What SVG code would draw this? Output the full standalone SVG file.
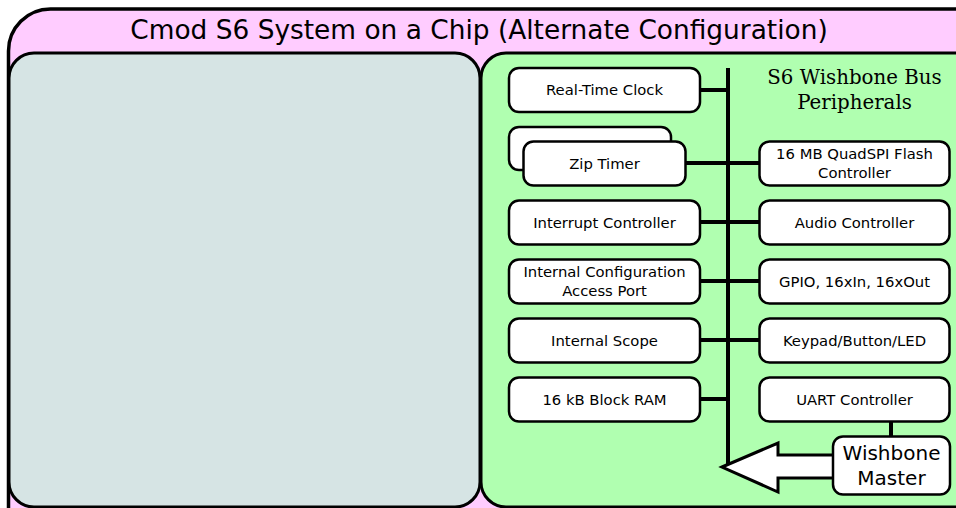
<svg xmlns="http://www.w3.org/2000/svg" width="956" height="508" viewBox="0 0 956 508">
<style>
.box{fill:#ffffff;stroke:#000;stroke-width:2.5}
.t{font-family:"DejaVu Sans",sans-serif;font-size:14.8px;text-anchor:middle;fill:#000}
.c{stroke:#000;stroke-width:4;fill:none}
</style>
<rect width="956" height="508" fill="#ffffff"/>
<g id="soc">
<rect x="8.5" y="9" width="990" height="560" rx="42" ry="42" fill="#ffccff" stroke="#000" stroke-width="3.5"/>
<text x="479" y="39" style="font-family:'DejaVu Sans',sans-serif;font-size:26.4px;text-anchor:middle">Cmod S6 System on a Chip (Alternate Configuration)</text>
</g>
<g id="cpu-panel">
<rect x="9" y="53" width="471" height="454" rx="25" ry="25" fill="#d6e4e4" stroke="#000" stroke-width="3"/>
</g>
<g id="bus-panel">
<rect x="481" y="53" width="520" height="454" rx="25" ry="25" fill="#b0ffb0" stroke="#000" stroke-width="3"/>
<text x="854.5" y="84" style="font-family:'DejaVu Serif',serif;font-size:19.8px;text-anchor:middle">S6 Wishbone Bus</text>
<text x="854.5" y="109" style="font-family:'DejaVu Serif',serif;font-size:19.8px;text-anchor:middle">Peripherals</text>
</g>
<g id="connectors">
<line class="c" x1="728" y1="68" x2="728" y2="466" stroke-width="5"/>
<line class="c" x1="700" y1="90" x2="728" y2="90"/>
<line class="c" x1="685" y1="163" x2="760" y2="163"/>
<line class="c" x1="700" y1="222" x2="760" y2="222"/>
<line class="c" x1="700" y1="281" x2="760" y2="281"/>
<line class="c" x1="700" y1="340" x2="760" y2="340"/>
<line class="c" x1="700" y1="399" x2="728" y2="399"/>
<line class="c" x1="891" y1="420" x2="891" y2="437"/>
<polygon points="722,467 778,443 778,455 834,455 834,478 778,478 778,492" fill="#fff" stroke="#000" stroke-width="3" stroke-linejoin="miter"/>
</g>
<g id="rtc"><rect class="box" x="509" y="68" width="191" height="44" rx="10"/><text class="t" x="604.5" y="95">Real-Time Clock</text></g>
<g id="zip-timer">
<rect class="box" x="509" y="127" width="162" height="43" rx="10"/>
<rect class="box" x="523.5" y="141.5" width="162" height="44" rx="10"/>
<text class="t" x="604.5" y="168.5">Zip Timer</text>
</g>
<g id="pic"><rect class="box" x="509" y="200.5" width="191" height="44" rx="10"/><text class="t" x="604.5" y="227.5">Interrupt Controller</text></g>
<g id="icap"><rect class="box" x="509" y="259.5" width="191" height="44" rx="10"/><text class="t" x="604.5" y="277">Internal Configuration</text><text class="t" x="604.5" y="296">Access Port</text></g>
<g id="scope"><rect class="box" x="509" y="318.5" width="191" height="44" rx="10"/><text class="t" x="604.5" y="345.5">Internal Scope</text></g>
<g id="ram"><rect class="box" x="509" y="377.5" width="191" height="44" rx="10"/><text class="t" x="604.5" y="404.5">16 kB Block RAM</text></g>
<g id="flash"><rect class="box" x="759.5" y="141.5" width="190" height="44" rx="10"/><text class="t" x="854.5" y="159">16 MB QuadSPI Flash</text><text class="t" x="854.5" y="178">Controller</text></g>
<g id="audio"><rect class="box" x="759.5" y="200.5" width="190" height="44" rx="10"/><text class="t" x="854.5" y="227.5">Audio Controller</text></g>
<g id="gpio"><rect class="box" x="759.5" y="259.5" width="190" height="44" rx="10"/><text class="t" x="854.5" y="286.5">GPIO, 16xIn, 16xOut</text></g>
<g id="keypad"><rect class="box" x="759.5" y="318.5" width="190" height="44" rx="10"/><text class="t" x="854.5" y="345.5">Keypad/Button/LED</text></g>
<g id="uart"><rect class="box" x="759.5" y="377.5" width="190" height="44" rx="10"/><text class="t" x="854.5" y="404.5">UART Controller</text></g>
<g id="wb-master"><rect class="box" x="833" y="436.5" width="117" height="58" rx="10"/><text class="t" x="891.5" y="460" style="font-size:20px">Wishbone</text><text class="t" x="891.5" y="485" style="font-size:20px">Master</text></g>
</svg>
